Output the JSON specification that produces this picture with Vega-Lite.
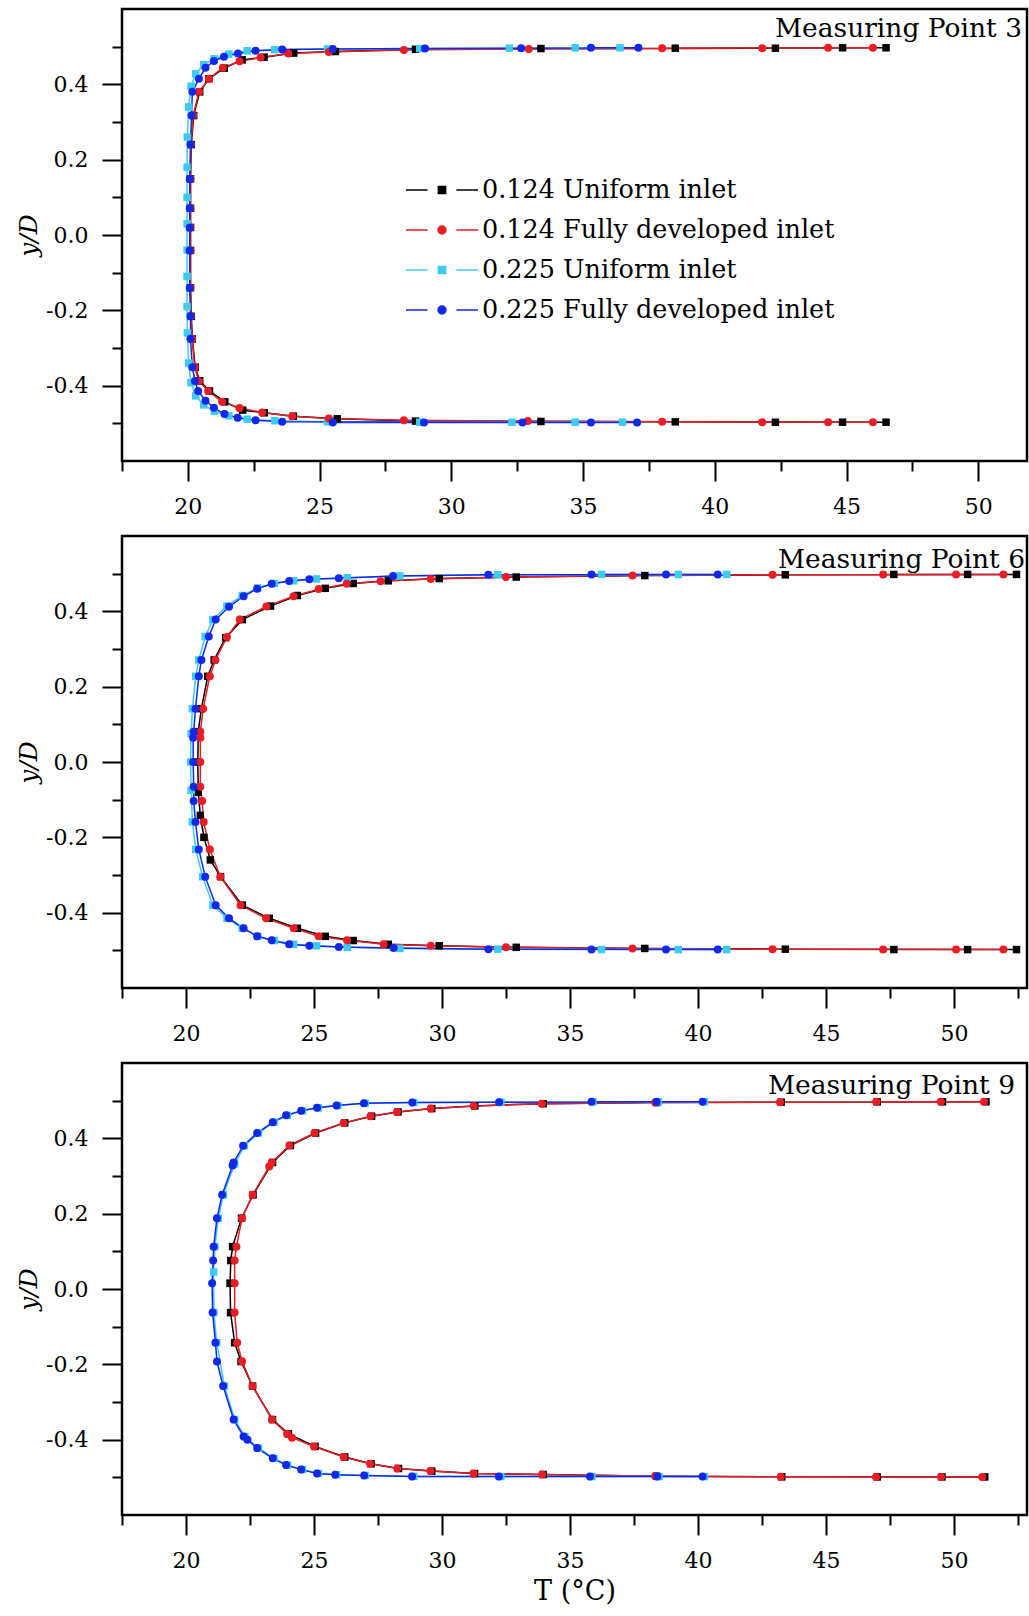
{
"$schema": "https://vega.github.io/schema/vega-lite/v6.json",
"padding": {"left": 15, "top": 7, "right": 3, "bottom": 2},
"background": "white",
"config": {
  "view": {"stroke": "black", "strokeWidth": 2.5},
  "font": "DejaVu Serif",
  "axis": {"labelColor": "black", "tickColor": "black", "titleColor": "black", "labelFont": "DejaVu Serif", "titleFont": "DejaVu Serif", "grid": false, "domain": false, "tickWidth": 2}
},
"data": {"values": [
{"p":3,"s":"A","t":46.5,"y":0.497},{"p":3,"s":"A","t":44.85,"y":0.497},{"p":3,"s":"A","t":42.3,"y":0.496},{"p":3,"s":"A","t":38.5,"y":0.496},{"p":3,"s":"A","t":33.4,"y":0.495},{"p":3,"s":"A","t":28.64,"y":0.493},{"p":3,"s":"A","t":25.6,"y":0.487},{"p":3,"s":"A","t":24.02,"y":0.483},{"p":3,"s":"A","t":22.89,"y":0.472},{"p":3,"s":"A","t":22.06,"y":0.465},{"p":3,"s":"A","t":21.38,"y":0.443},{"p":3,"s":"A","t":20.8,"y":0.415},{"p":3,"s":"A","t":20.45,"y":0.38},{"p":3,"s":"A","t":20.22,"y":0.317},{"p":3,"s":"A","t":20.13,"y":0.24},{"p":3,"s":"A","t":20.1,"y":0.149},{"p":3,"s":"A","t":20.1,"y":0.071},{"p":3,"s":"A","t":20.1,"y":0.02},{"p":3,"s":"A","t":20.1,"y":-0.041},{"p":3,"s":"A","t":20.1,"y":-0.14},{"p":3,"s":"A","t":20.13,"y":-0.216},{"p":3,"s":"A","t":20.17,"y":-0.276},{"p":3,"s":"A","t":20.28,"y":-0.351},{"p":3,"s":"A","t":20.45,"y":-0.387},{"p":3,"s":"A","t":20.82,"y":-0.414},{"p":3,"s":"A","t":21.4,"y":-0.443},{"p":3,"s":"A","t":22.08,"y":-0.465},{"p":3,"s":"A","t":22.9,"y":-0.472},{"p":3,"s":"A","t":24.0,"y":-0.481},{"p":3,"s":"A","t":25.67,"y":-0.488},{"p":3,"s":"A","t":28.64,"y":-0.494},{"p":3,"s":"A","t":33.4,"y":-0.495},{"p":3,"s":"A","t":38.5,"y":-0.496},{"p":3,"s":"A","t":42.3,"y":-0.497},{"p":3,"s":"A","t":44.85,"y":-0.497},{"p":3,"s":"A","t":46.5,"y":-0.497},
{"p":3,"s":"B","t":46.0,"y":0.497},{"p":3,"s":"B","t":44.3,"y":0.497},{"p":3,"s":"B","t":41.8,"y":0.496},{"p":3,"s":"B","t":38.0,"y":0.496},{"p":3,"s":"B","t":32.94,"y":0.494},{"p":3,"s":"B","t":28.2,"y":0.491},{"p":3,"s":"B","t":25.35,"y":0.486},{"p":3,"s":"B","t":23.81,"y":0.482},{"p":3,"s":"B","t":22.76,"y":0.471},{"p":3,"s":"B","t":21.96,"y":0.461},{"p":3,"s":"B","t":21.33,"y":0.444},{"p":3,"s":"B","t":20.8,"y":0.415},{"p":3,"s":"B","t":20.42,"y":0.38},{"p":3,"s":"B","t":20.2,"y":0.317},{"p":3,"s":"B","t":20.12,"y":0.24},{"p":3,"s":"B","t":20.1,"y":0.149},{"p":3,"s":"B","t":20.1,"y":0.071},{"p":3,"s":"B","t":20.1,"y":0.02},{"p":3,"s":"B","t":20.1,"y":-0.041},{"p":3,"s":"B","t":20.1,"y":-0.14},{"p":3,"s":"B","t":20.12,"y":-0.216},{"p":3,"s":"B","t":20.16,"y":-0.276},{"p":3,"s":"B","t":20.26,"y":-0.351},{"p":3,"s":"B","t":20.42,"y":-0.388},{"p":3,"s":"B","t":20.77,"y":-0.414},{"p":3,"s":"B","t":21.3,"y":-0.443},{"p":3,"s":"B","t":21.96,"y":-0.459},{"p":3,"s":"B","t":22.82,"y":-0.471},{"p":3,"s":"B","t":23.96,"y":-0.481},{"p":3,"s":"B","t":25.35,"y":-0.487},{"p":3,"s":"B","t":28.2,"y":-0.492},{"p":3,"s":"B","t":32.9,"y":-0.494},{"p":3,"s":"B","t":38.0,"y":-0.496},{"p":3,"s":"B","t":41.8,"y":-0.497},{"p":3,"s":"B","t":44.3,"y":-0.497},{"p":3,"s":"B","t":46.0,"y":-0.497},
{"p":3,"s":"C","t":36.4,"y":0.497},{"p":3,"s":"C","t":34.7,"y":0.497},{"p":3,"s":"C","t":32.2,"y":0.496},{"p":3,"s":"C","t":28.8,"y":0.495},{"p":3,"s":"C","t":25.3,"y":0.494},{"p":3,"s":"C","t":23.3,"y":0.492},{"p":3,"s":"C","t":22.25,"y":0.489},{"p":3,"s":"C","t":21.55,"y":0.48},{"p":3,"s":"C","t":21.0,"y":0.468},{"p":3,"s":"C","t":20.6,"y":0.452},{"p":3,"s":"C","t":20.3,"y":0.428},{"p":3,"s":"C","t":20.12,"y":0.395},{"p":3,"s":"C","t":20.03,"y":0.34},{"p":3,"s":"C","t":19.98,"y":0.26},{"p":3,"s":"C","t":19.97,"y":0.18},{"p":3,"s":"C","t":19.97,"y":0.1},{"p":3,"s":"C","t":19.97,"y":0.03},{"p":3,"s":"C","t":19.97,"y":-0.04},{"p":3,"s":"C","t":19.97,"y":-0.11},{"p":3,"s":"C","t":19.97,"y":-0.19},{"p":3,"s":"C","t":19.98,"y":-0.26},{"p":3,"s":"C","t":20.03,"y":-0.34},{"p":3,"s":"C","t":20.12,"y":-0.392},{"p":3,"s":"C","t":20.3,"y":-0.427},{"p":3,"s":"C","t":20.6,"y":-0.451},{"p":3,"s":"C","t":21.0,"y":-0.468},{"p":3,"s":"C","t":21.55,"y":-0.48},{"p":3,"s":"C","t":22.25,"y":-0.489},{"p":3,"s":"C","t":23.3,"y":-0.493},{"p":3,"s":"C","t":25.3,"y":-0.496},{"p":3,"s":"C","t":28.8,"y":-0.497},{"p":3,"s":"C","t":32.3,"y":-0.497},{"p":3,"s":"C","t":34.7,"y":-0.497},{"p":3,"s":"C","t":36.5,"y":-0.497},
{"p":3,"s":"D","t":37.1,"y":0.497},{"p":3,"s":"D","t":35.3,"y":0.497},{"p":3,"s":"D","t":32.65,"y":0.496},{"p":3,"s":"D","t":29.0,"y":0.495},{"p":3,"s":"D","t":25.5,"y":0.494},{"p":3,"s":"D","t":23.58,"y":0.4925},{"p":3,"s":"D","t":22.57,"y":0.489},{"p":3,"s":"D","t":21.9,"y":0.482},{"p":3,"s":"D","t":21.37,"y":0.473},{"p":3,"s":"D","t":20.99,"y":0.462},{"p":3,"s":"D","t":20.67,"y":0.444},{"p":3,"s":"D","t":20.42,"y":0.415},{"p":3,"s":"D","t":20.17,"y":0.38},{"p":3,"s":"D","t":20.14,"y":0.317},{"p":3,"s":"D","t":20.1,"y":0.24},{"p":3,"s":"D","t":20.07,"y":0.1485},{"p":3,"s":"D","t":20.07,"y":0.071},{"p":3,"s":"D","t":20.07,"y":0.0195},{"p":3,"s":"D","t":20.07,"y":-0.041},{"p":3,"s":"D","t":20.07,"y":-0.1405},{"p":3,"s":"D","t":20.1,"y":-0.216},{"p":3,"s":"D","t":20.1,"y":-0.2755},{"p":3,"s":"D","t":20.17,"y":-0.351},{"p":3,"s":"D","t":20.27,"y":-0.3876},{"p":3,"s":"D","t":20.39,"y":-0.414},{"p":3,"s":"D","t":20.67,"y":-0.44},{"p":3,"s":"D","t":20.99,"y":-0.4587},{"p":3,"s":"D","t":21.39,"y":-0.4755},{"p":3,"s":"D","t":21.89,"y":-0.485},{"p":3,"s":"D","t":22.57,"y":-0.4916},{"p":3,"s":"D","t":23.58,"y":-0.496},{"p":3,"s":"D","t":25.5,"y":-0.498},{"p":3,"s":"D","t":28.96,"y":-0.498},{"p":3,"s":"D","t":32.7,"y":-0.498},{"p":3,"s":"D","t":35.3,"y":-0.498},{"p":3,"s":"D","t":37.05,"y":-0.498},
{"p":6,"s":"A","t":52.44,"y":0.498},{"p":6,"s":"A","t":50.53,"y":0.498},{"p":6,"s":"A","t":47.65,"y":0.498},{"p":6,"s":"A","t":43.41,"y":0.497},{"p":6,"s":"A","t":37.92,"y":0.495},{"p":6,"s":"A","t":32.9,"y":0.491},{"p":6,"s":"A","t":29.89,"y":0.487},{"p":6,"s":"A","t":27.9,"y":0.481},{"p":6,"s":"A","t":26.53,"y":0.474},{"p":6,"s":"A","t":25.44,"y":0.461},{"p":6,"s":"A","t":24.35,"y":0.442},{"p":6,"s":"A","t":23.3,"y":0.414},{"p":6,"s":"A","t":22.2,"y":0.378},{"p":6,"s":"A","t":21.55,"y":0.33},{"p":6,"s":"A","t":21.1,"y":0.271},{"p":6,"s":"A","t":20.85,"y":0.2275},{"p":6,"s":"A","t":20.6,"y":0.1416},{"p":6,"s":"A","t":20.48,"y":0.0806},{"p":6,"s":"A","t":20.46,"y":0.0},{"p":6,"s":"A","t":20.48,"y":-0.0806},{"p":6,"s":"A","t":20.56,"y":-0.1416},{"p":6,"s":"A","t":20.7,"y":-0.2},{"p":6,"s":"A","t":20.95,"y":-0.26},{"p":6,"s":"A","t":21.35,"y":-0.3044},{"p":6,"s":"A","t":22.2,"y":-0.38},{"p":6,"s":"A","t":23.25,"y":-0.415},{"p":6,"s":"A","t":24.35,"y":-0.4415},{"p":6,"s":"A","t":25.44,"y":-0.4628},{"p":6,"s":"A","t":26.53,"y":-0.474},{"p":6,"s":"A","t":27.9,"y":-0.484},{"p":6,"s":"A","t":29.89,"y":-0.488},{"p":6,"s":"A","t":32.9,"y":-0.492},{"p":6,"s":"A","t":37.92,"y":-0.495},{"p":6,"s":"A","t":43.41,"y":-0.497},{"p":6,"s":"A","t":47.65,"y":-0.498},{"p":6,"s":"A","t":50.53,"y":-0.498},{"p":6,"s":"A","t":52.44,"y":-0.498},
{"p":6,"s":"B","t":51.93,"y":0.498},{"p":6,"s":"B","t":50.08,"y":0.498},{"p":6,"s":"B","t":47.23,"y":0.498},{"p":6,"s":"B","t":42.91,"y":0.497},{"p":6,"s":"B","t":37.44,"y":0.495},{"p":6,"s":"B","t":32.5,"y":0.491},{"p":6,"s":"B","t":29.56,"y":0.486},{"p":6,"s":"B","t":27.6,"y":0.48},{"p":6,"s":"B","t":26.28,"y":0.473},{"p":6,"s":"B","t":25.18,"y":0.459},{"p":6,"s":"B","t":24.2,"y":0.44},{"p":6,"s":"B","t":23.14,"y":0.413},{"p":6,"s":"B","t":22.1,"y":0.378},{"p":6,"s":"B","t":21.6,"y":0.332},{"p":6,"s":"B","t":21.15,"y":0.271},{"p":6,"s":"B","t":20.93,"y":0.2275},{"p":6,"s":"B","t":20.67,"y":0.1416},{"p":6,"s":"B","t":20.56,"y":0.0806},{"p":6,"s":"B","t":20.56,"y":0.0646},{"p":6,"s":"B","t":20.56,"y":0.0},{"p":6,"s":"B","t":20.56,"y":-0.0655},{"p":6,"s":"B","t":20.63,"y":-0.1035},{"p":6,"s":"B","t":20.69,"y":-0.159},{"p":6,"s":"B","t":20.93,"y":-0.232},{"p":6,"s":"B","t":21.34,"y":-0.3044},{"p":6,"s":"B","t":22.13,"y":-0.38},{"p":6,"s":"B","t":23.13,"y":-0.415},{"p":6,"s":"B","t":24.21,"y":-0.4415},{"p":6,"s":"B","t":25.18,"y":-0.4628},{"p":6,"s":"B","t":26.29,"y":-0.473},{"p":6,"s":"B","t":27.72,"y":-0.484},{"p":6,"s":"B","t":29.56,"y":-0.488},{"p":6,"s":"B","t":32.5,"y":-0.492},{"p":6,"s":"B","t":37.44,"y":-0.495},{"p":6,"s":"B","t":42.91,"y":-0.497},{"p":6,"s":"B","t":47.23,"y":-0.498},{"p":6,"s":"B","t":50.08,"y":-0.498},{"p":6,"s":"B","t":51.93,"y":-0.498},
{"p":6,"s":"C","t":41.12,"y":0.498},{"p":6,"s":"C","t":39.23,"y":0.498},{"p":6,"s":"C","t":36.23,"y":0.498},{"p":6,"s":"C","t":32.18,"y":0.497},{"p":6,"s":"C","t":28.35,"y":0.494},{"p":6,"s":"C","t":26.3,"y":0.489},{"p":6,"s":"C","t":25.1,"y":0.486},{"p":6,"s":"C","t":24.2,"y":0.481},{"p":6,"s":"C","t":23.45,"y":0.474},{"p":6,"s":"C","t":22.8,"y":0.462},{"p":6,"s":"C","t":22.2,"y":0.442},{"p":6,"s":"C","t":21.6,"y":0.414},{"p":6,"s":"C","t":21.05,"y":0.378},{"p":6,"s":"C","t":20.75,"y":0.333},{"p":6,"s":"C","t":20.5,"y":0.271},{"p":6,"s":"C","t":20.38,"y":0.2275},{"p":6,"s":"C","t":20.25,"y":0.1416},{"p":6,"s":"C","t":20.2,"y":0.075},{"p":6,"s":"C","t":20.18,"y":0.0},{"p":6,"s":"C","t":20.2,"y":-0.075},{"p":6,"s":"C","t":20.25,"y":-0.159},{"p":6,"s":"C","t":20.38,"y":-0.232},{"p":6,"s":"C","t":20.65,"y":-0.3044},{"p":6,"s":"C","t":21.05,"y":-0.38},{"p":6,"s":"C","t":21.6,"y":-0.415},{"p":6,"s":"C","t":22.2,"y":-0.4415},{"p":6,"s":"C","t":22.8,"y":-0.4628},{"p":6,"s":"C","t":23.45,"y":-0.474},{"p":6,"s":"C","t":24.2,"y":-0.484},{"p":6,"s":"C","t":25.1,"y":-0.488},{"p":6,"s":"C","t":26.3,"y":-0.492},{"p":6,"s":"C","t":28.35,"y":-0.495},{"p":6,"s":"C","t":32.18,"y":-0.497},{"p":6,"s":"C","t":36.23,"y":-0.498},{"p":6,"s":"C","t":39.23,"y":-0.498},{"p":6,"s":"C","t":41.12,"y":-0.498},
{"p":6,"s":"D","t":40.77,"y":0.498},{"p":6,"s":"D","t":38.75,"y":0.498},{"p":6,"s":"D","t":35.84,"y":0.498},{"p":6,"s":"D","t":31.81,"y":0.497},{"p":6,"s":"D","t":28.09,"y":0.494},{"p":6,"s":"D","t":25.97,"y":0.4876},{"p":6,"s":"D","t":24.82,"y":0.485},{"p":6,"s":"D","t":24.03,"y":0.4805},{"p":6,"s":"D","t":23.35,"y":0.4734},{"p":6,"s":"D","t":22.78,"y":0.46},{"p":6,"s":"D","t":22.25,"y":0.44},{"p":6,"s":"D","t":21.68,"y":0.412},{"p":6,"s":"D","t":21.16,"y":0.378},{"p":6,"s":"D","t":20.89,"y":0.333},{"p":6,"s":"D","t":20.6,"y":0.271},{"p":6,"s":"D","t":20.5,"y":0.2275},{"p":6,"s":"D","t":20.37,"y":0.1416},{"p":6,"s":"D","t":20.3,"y":0.0806},{"p":6,"s":"D","t":20.28,"y":0.0646},{"p":6,"s":"D","t":20.28,"y":0.0},{"p":6,"s":"D","t":20.3,"y":-0.0655},{"p":6,"s":"D","t":20.3,"y":-0.1035},{"p":6,"s":"D","t":20.37,"y":-0.159},{"p":6,"s":"D","t":20.5,"y":-0.232},{"p":6,"s":"D","t":20.75,"y":-0.3044},{"p":6,"s":"D","t":21.16,"y":-0.38},{"p":6,"s":"D","t":21.68,"y":-0.415},{"p":6,"s":"D","t":22.25,"y":-0.4415},{"p":6,"s":"D","t":22.78,"y":-0.4628},{"p":6,"s":"D","t":23.35,"y":-0.473},{"p":6,"s":"D","t":24.03,"y":-0.484},{"p":6,"s":"D","t":24.82,"y":-0.488},{"p":6,"s":"D","t":25.97,"y":-0.491},{"p":6,"s":"D","t":28.11,"y":-0.494},{"p":6,"s":"D","t":31.81,"y":-0.497},{"p":6,"s":"D","t":35.84,"y":-0.498},{"p":6,"s":"D","t":38.75,"y":-0.498},{"p":6,"s":"D","t":40.77,"y":-0.498},
{"p":9,"s":"A","t":51.25,"y":0.497},{"p":9,"s":"A","t":49.55,"y":0.497},{"p":9,"s":"A","t":47.0,"y":0.497},{"p":9,"s":"A","t":43.25,"y":0.496},{"p":9,"s":"A","t":38.38,"y":0.495},{"p":9,"s":"A","t":33.95,"y":0.492},{"p":9,"s":"A","t":31.28,"y":0.486},{"p":9,"s":"A","t":29.6,"y":0.479},{"p":9,"s":"A","t":28.28,"y":0.47},{"p":9,"s":"A","t":27.25,"y":0.4587},{"p":9,"s":"A","t":26.2,"y":0.441},{"p":9,"s":"A","t":25.06,"y":0.414},{"p":9,"s":"A","t":24.08,"y":0.381},{"p":9,"s":"A","t":23.38,"y":0.336},{"p":9,"s":"A","t":22.62,"y":0.25},{"p":9,"s":"A","t":22.17,"y":0.188},{"p":9,"s":"A","t":21.82,"y":0.1125},{"p":9,"s":"A","t":21.75,"y":0.0755},{"p":9,"s":"A","t":21.72,"y":0.0155},{"p":9,"s":"A","t":21.74,"y":-0.0627},{"p":9,"s":"A","t":21.9,"y":-0.1427},{"p":9,"s":"A","t":22.15,"y":-0.1925},{"p":9,"s":"A","t":22.6,"y":-0.2576},{"p":9,"s":"A","t":23.38,"y":-0.3467},{"p":9,"s":"A","t":24.0,"y":-0.3845},{"p":9,"s":"A","t":25.04,"y":-0.418},{"p":9,"s":"A","t":26.2,"y":-0.446},{"p":9,"s":"A","t":27.23,"y":-0.464},{"p":9,"s":"A","t":28.3,"y":-0.4765},{"p":9,"s":"A","t":29.6,"y":-0.4835},{"p":9,"s":"A","t":31.27,"y":-0.49},{"p":9,"s":"A","t":33.95,"y":-0.4925},{"p":9,"s":"A","t":38.38,"y":-0.497},{"p":9,"s":"A","t":43.27,"y":-0.4987},{"p":9,"s":"A","t":47.0,"y":-0.499},{"p":9,"s":"A","t":49.53,"y":-0.499},{"p":9,"s":"A","t":51.2,"y":-0.499},
{"p":9,"s":"B","t":51.17,"y":0.497},{"p":9,"s":"B","t":49.48,"y":0.497},{"p":9,"s":"B","t":46.96,"y":0.497},{"p":9,"s":"B","t":43.2,"y":0.496},{"p":9,"s":"B","t":38.33,"y":0.495},{"p":9,"s":"B","t":33.9,"y":0.492},{"p":9,"s":"B","t":31.24,"y":0.486},{"p":9,"s":"B","t":29.56,"y":0.479},{"p":9,"s":"B","t":28.24,"y":0.47},{"p":9,"s":"B","t":27.21,"y":0.4587},{"p":9,"s":"B","t":26.16,"y":0.441},{"p":9,"s":"B","t":25.02,"y":0.414},{"p":9,"s":"B","t":24.04,"y":0.381},{"p":9,"s":"B","t":23.35,"y":0.336},{"p":9,"s":"B","t":23.25,"y":0.325},{"p":9,"s":"B","t":22.6,"y":0.25},{"p":9,"s":"B","t":22.19,"y":0.188},{"p":9,"s":"B","t":21.97,"y":0.1125},{"p":9,"s":"B","t":21.9,"y":0.0755},{"p":9,"s":"B","t":21.9,"y":0.0155},{"p":9,"s":"B","t":21.9,"y":-0.0627},{"p":9,"s":"B","t":22.0,"y":-0.1427},{"p":9,"s":"B","t":22.19,"y":-0.1925},{"p":9,"s":"B","t":22.6,"y":-0.2576},{"p":9,"s":"B","t":23.36,"y":-0.3467},{"p":9,"s":"B","t":23.95,"y":-0.3845},{"p":9,"s":"B","t":24.14,"y":-0.3947},{"p":9,"s":"B","t":25.0,"y":-0.418},{"p":9,"s":"B","t":26.16,"y":-0.446},{"p":9,"s":"B","t":27.19,"y":-0.464},{"p":9,"s":"B","t":28.25,"y":-0.4765},{"p":9,"s":"B","t":29.55,"y":-0.4835},{"p":9,"s":"B","t":31.23,"y":-0.49},{"p":9,"s":"B","t":33.91,"y":-0.4925},{"p":9,"s":"B","t":38.33,"y":-0.497},{"p":9,"s":"B","t":43.23,"y":-0.4987},{"p":9,"s":"B","t":46.95,"y":-0.499},{"p":9,"s":"B","t":49.49,"y":-0.499},{"p":9,"s":"B","t":51.1,"y":-0.499},
{"p":9,"s":"C","t":40.25,"y":0.497},{"p":9,"s":"C","t":38.45,"y":0.497},{"p":9,"s":"C","t":35.9,"y":0.497},{"p":9,"s":"C","t":32.3,"y":0.496},{"p":9,"s":"C","t":28.9,"y":0.495},{"p":9,"s":"C","t":27.0,"y":0.493},{"p":9,"s":"C","t":25.93,"y":0.487},{"p":9,"s":"C","t":25.17,"y":0.481},{"p":9,"s":"C","t":24.55,"y":0.473},{"p":9,"s":"C","t":23.96,"y":0.461},{"p":9,"s":"C","t":23.44,"y":0.443},{"p":9,"s":"C","t":22.83,"y":0.414},{"p":9,"s":"C","t":22.28,"y":0.38},{"p":9,"s":"C","t":21.9,"y":0.332},{"p":9,"s":"C","t":21.46,"y":0.25},{"p":9,"s":"C","t":21.26,"y":0.188},{"p":9,"s":"C","t":21.13,"y":0.1125},{"p":9,"s":"C","t":21.08,"y":0.045},{"p":9,"s":"C","t":21.09,"y":-0.0627},{"p":9,"s":"C","t":21.2,"y":-0.1427},{"p":9,"s":"C","t":21.5,"y":-0.2576},{"p":9,"s":"C","t":21.9,"y":-0.3467},{"p":9,"s":"C","t":22.3,"y":-0.3915},{"p":9,"s":"C","t":22.83,"y":-0.4224},{"p":9,"s":"C","t":23.44,"y":-0.4496},{"p":9,"s":"C","t":23.96,"y":-0.4675},{"p":9,"s":"C","t":24.55,"y":-0.4795},{"p":9,"s":"C","t":25.17,"y":-0.4896},{"p":9,"s":"C","t":25.88,"y":-0.493},{"p":9,"s":"C","t":27.0,"y":-0.495},{"p":9,"s":"C","t":28.9,"y":-0.4975},{"p":9,"s":"C","t":32.3,"y":-0.498},{"p":9,"s":"C","t":35.85,"y":-0.498},{"p":9,"s":"C","t":38.48,"y":-0.498},{"p":9,"s":"C","t":40.25,"y":-0.498},
{"p":9,"s":"D","t":40.18,"y":0.497},{"p":9,"s":"D","t":38.38,"y":0.497},{"p":9,"s":"D","t":35.84,"y":0.497},{"p":9,"s":"D","t":32.23,"y":0.496},{"p":9,"s":"D","t":28.84,"y":0.495},{"p":9,"s":"D","t":26.95,"y":0.493},{"p":9,"s":"D","t":25.88,"y":0.487},{"p":9,"s":"D","t":25.12,"y":0.481},{"p":9,"s":"D","t":24.5,"y":0.473},{"p":9,"s":"D","t":23.91,"y":0.461},{"p":9,"s":"D","t":23.39,"y":0.443},{"p":9,"s":"D","t":22.78,"y":0.414},{"p":9,"s":"D","t":22.23,"y":0.38},{"p":9,"s":"D","t":21.86,"y":0.336},{"p":9,"s":"D","t":21.82,"y":0.328},{"p":9,"s":"D","t":21.41,"y":0.25},{"p":9,"s":"D","t":21.21,"y":0.188},{"p":9,"s":"D","t":21.08,"y":0.1125},{"p":9,"s":"D","t":21.06,"y":0.0755},{"p":9,"s":"D","t":21.02,"y":0.0155},{"p":9,"s":"D","t":21.04,"y":-0.0627},{"p":9,"s":"D","t":21.15,"y":-0.1427},{"p":9,"s":"D","t":21.21,"y":-0.1925},{"p":9,"s":"D","t":21.45,"y":-0.2576},{"p":9,"s":"D","t":21.86,"y":-0.3467},{"p":9,"s":"D","t":22.25,"y":-0.3915},{"p":9,"s":"D","t":22.4,"y":-0.4},{"p":9,"s":"D","t":22.78,"y":-0.4224},{"p":9,"s":"D","t":23.39,"y":-0.4496},{"p":9,"s":"D","t":23.91,"y":-0.4675},{"p":9,"s":"D","t":24.5,"y":-0.4795},{"p":9,"s":"D","t":25.12,"y":-0.4896},{"p":9,"s":"D","t":25.83,"y":-0.493},{"p":9,"s":"D","t":26.96,"y":-0.495},{"p":9,"s":"D","t":28.83,"y":-0.4975},{"p":9,"s":"D","t":32.22,"y":-0.498},{"p":9,"s":"D","t":35.78,"y":-0.498},{"p":9,"s":"D","t":38.41,"y":-0.498},{"p":9,"s":"D","t":40.18,"y":-0.498}
]},
"spacing": 75,
"bounds": "flush",
"vconcat": [
{
  "width": 905, "height": 452,
  "layer": [
    {"transform": [{"filter": "datum.p == 3"}],
     "mark": {"type": "line", "strokeWidth": 1.5},
     "encoding": {
       "x": {"field": "t", "type": "quantitative", "scale": {"domain": [17.5, 51.85], "nice": false, "zero": false},
             "axis": {"orient": "bottom", "values": [20, 25, 30, 35, 40, 45, 50], "tickSize": 20, "labelFontSize": 22, "labelPadding": 15, "title": null, "labelFlush": false}},
       "y": {"field": "y", "type": "quantitative", "scale": {"domain": [-0.6, 0.6], "nice": false, "zero": false},
             "axis": {"orient": "left", "values": [-0.4, -0.2, 0, 0.2, 0.4], "tickSize": 20, "labelFontSize": 22, "labelPadding": 14, "labelExpr": "datum.value < 0 ? '-' + format(-datum.value, '.1f') : format(datum.value, '.1f')", "title": "y/D", "titleFontStyle": "italic", "titleFontWeight": "normal", "titleFontSize": 25, "titlePadding": 4, "labelFlush": false}},
       "color": {"field": "s", "type": "nominal", "scale": {"domain": ["A", "B", "C", "D"], "range": ["#000000", "#ec1c24", "#3ccbf2", "#1228e8"]},
         "legend": {"orient": "none", "legendX": 283, "legendY": 168, "title": null, "padding": 0, "labelFont": "DejaVu Serif", "labelFontSize": 25.5, "labelColor": "black", "labelLimit": 0, "labelOffset": 3, "rowPadding": 13, "clipHeight": 26, "symbolSize": 5184, "symbolStrokeWidth": 1.5,
           "labelExpr": "datum.label == 'A' ? '0.124 Uniform inlet' : datum.label == 'B' ? '0.124 Fully developed inlet' : datum.label == 'C' ? '0.225 Uniform inlet' : '0.225 Fully developed inlet'",
           "encode": {"symbols": {"update": {
             "shape": {"signal": "(datum.value == 'A' || datum.value == 'C') ? 'M-1,0H-0.4M0.4,0H1M-0.1,-0.1H0.1V0.1H-0.1Z' : 'M-1,0H-0.4M0.4,0H1M0.11,0A0.11,0.11 0 1,1 -0.11,0A0.11,0.11 0 1,1 0.11,0Z'"},
             "strokeWidth": {"value": 1.5},
             "opacity": {"value": 1}
           }}}}},
       "order": {"field": "y", "type": "quantitative"}
     }},
    {"transform": [{"filter": "datum.p == 3 && (datum.s == 'A' || datum.s == 'C')"}],
     "mark": {"type": "point", "shape": "square", "filled": true, "size": 56, "opacity": 1},
     "encoding": {
       "x": {"field": "t", "type": "quantitative", "axis": {"orient": "bottom", "values": [17.5, 22.5, 27.5, 32.5, 37.5, 42.5, 47.5], "tickSize": 10, "labels": false, "title": null}},
       "y": {"field": "y", "type": "quantitative", "axis": {"orient": "left", "values": [-0.5, -0.3, -0.1, 0.1, 0.3, 0.5], "tickSize": 10, "labels": false, "title": null}},
       "color": {"field": "s", "type": "nominal"}
     }},
    {"transform": [{"filter": "datum.p == 3 && (datum.s == 'B' || datum.s == 'D')"}],
     "mark": {"type": "point", "shape": "circle", "filled": true, "size": 64, "opacity": 1},
     "encoding": {
       "x": {"field": "t", "type": "quantitative", "axis": null},
       "y": {"field": "y", "type": "quantitative", "axis": null},
       "color": {"field": "s", "type": "nominal"}
     }},
    {"data": {"values": [{"label": "Measuring Point 3"}]},
     "mark": {"type": "text", "align": "right", "baseline": "alphabetic", "dx": -5, "dy": 28, "font": "DejaVu Serif", "fontSize": 26.5, "color": "black"},
     "encoding": {"x": {"datum": 51.85, "type": "quantitative", "axis": null}, "y": {"datum": 0.6, "type": "quantitative", "axis": null}, "text": {"field": "label"}}}
  ],
  "resolve": {"axis": {"x": "independent", "y": "independent"}}
},
{
  "width": 905, "height": 452,
  "layer": [
    {"transform": [{"filter": "datum.p == 6"}],
     "mark": {"type": "line", "strokeWidth": 1.5},
     "encoding": {
       "x": {"field": "t", "type": "quantitative", "scale": {"domain": [17.5, 52.85], "nice": false, "zero": false},
             "axis": {"orient": "bottom", "values": [20, 25, 30, 35, 40, 45, 50], "tickSize": 20, "labelFontSize": 22, "labelPadding": 15, "title": null, "labelFlush": false}},
       "y": {"field": "y", "type": "quantitative", "scale": {"domain": [-0.6, 0.6], "nice": false, "zero": false},
             "axis": {"orient": "left", "values": [-0.4, -0.2, 0, 0.2, 0.4], "tickSize": 20, "labelFontSize": 22, "labelPadding": 14, "labelExpr": "datum.value < 0 ? '-' + format(-datum.value, '.1f') : format(datum.value, '.1f')", "title": "y/D", "titleFontStyle": "italic", "titleFontWeight": "normal", "titleFontSize": 25, "titlePadding": 4, "labelFlush": false}},
       "color": {"field": "s", "type": "nominal"},
       "order": {"field": "y", "type": "quantitative"}
     }},
    {"transform": [{"filter": "datum.p == 6 && (datum.s == 'A' || datum.s == 'C')"}],
     "mark": {"type": "point", "shape": "square", "filled": true, "size": 56, "opacity": 1},
     "encoding": {
       "x": {"field": "t", "type": "quantitative", "axis": {"orient": "bottom", "values": [17.5, 22.5, 27.5, 32.5, 37.5, 42.5, 47.5, 52.5], "tickSize": 10, "labels": false, "title": null}},
       "y": {"field": "y", "type": "quantitative", "axis": {"orient": "left", "values": [-0.5, -0.3, -0.1, 0.1, 0.3, 0.5], "tickSize": 10, "labels": false, "title": null}},
       "color": {"field": "s", "type": "nominal"}
     }},
    {"transform": [{"filter": "datum.p == 6 && (datum.s == 'B' || datum.s == 'D')"}],
     "mark": {"type": "point", "shape": "circle", "filled": true, "size": 64, "opacity": 1},
     "encoding": {
       "x": {"field": "t", "type": "quantitative", "axis": null},
       "y": {"field": "y", "type": "quantitative", "axis": null},
       "color": {"field": "s", "type": "nominal"}
     }},
    {"data": {"values": [{"label": "Measuring Point 6"}]},
     "mark": {"type": "text", "align": "right", "baseline": "alphabetic", "dx": -2, "dy": 32, "font": "DejaVu Serif", "fontSize": 26.5, "color": "black"},
     "encoding": {"x": {"datum": 52.85, "type": "quantitative", "axis": null}, "y": {"datum": 0.6, "type": "quantitative", "axis": null}, "text": {"field": "label"}}}
  ],
  "resolve": {"axis": {"x": "independent", "y": "independent"}}
},
{
  "width": 905, "height": 452,
  "layer": [
    {"transform": [{"filter": "datum.p == 9"}],
     "mark": {"type": "line", "strokeWidth": 1.5},
     "encoding": {
       "x": {"field": "t", "type": "quantitative", "scale": {"domain": [17.5, 52.85], "nice": false, "zero": false},
             "axis": {"orient": "bottom", "values": [20, 25, 30, 35, 40, 45, 50], "tickSize": 20, "labelFontSize": 22, "labelPadding": 15, "title": "T (°C)", "titleFontSize": 27, "titleFontWeight": "normal", "titlePadding": 7, "labelFlush": false}},
       "y": {"field": "y", "type": "quantitative", "scale": {"domain": [-0.6, 0.6], "nice": false, "zero": false},
             "axis": {"orient": "left", "values": [-0.4, -0.2, 0, 0.2, 0.4], "tickSize": 20, "labelFontSize": 22, "labelPadding": 14, "labelExpr": "datum.value < 0 ? '-' + format(-datum.value, '.1f') : format(datum.value, '.1f')", "title": "y/D", "titleFontStyle": "italic", "titleFontWeight": "normal", "titleFontSize": 25, "titlePadding": 4, "labelFlush": false}},
       "color": {"field": "s", "type": "nominal"},
       "order": {"field": "y", "type": "quantitative"}
     }},
    {"transform": [{"filter": "datum.p == 9 && (datum.s == 'A' || datum.s == 'C')"}],
     "mark": {"type": "point", "shape": "square", "filled": true, "size": 56, "opacity": 1},
     "encoding": {
       "x": {"field": "t", "type": "quantitative", "axis": {"orient": "bottom", "values": [17.5, 22.5, 27.5, 32.5, 37.5, 42.5, 47.5, 52.5], "tickSize": 10, "labels": false, "title": null}},
       "y": {"field": "y", "type": "quantitative", "axis": {"orient": "left", "values": [-0.5, -0.3, -0.1, 0.1, 0.3, 0.5], "tickSize": 10, "labels": false, "title": null}},
       "color": {"field": "s", "type": "nominal"}
     }},
    {"transform": [{"filter": "datum.p == 9 && (datum.s == 'B' || datum.s == 'D')"}],
     "mark": {"type": "point", "shape": "circle", "filled": true, "size": 64, "opacity": 1},
     "encoding": {
       "x": {"field": "t", "type": "quantitative", "axis": null},
       "y": {"field": "y", "type": "quantitative", "axis": null},
       "color": {"field": "s", "type": "nominal"}
     }},
    {"data": {"values": [{"label": "Measuring Point 9"}]},
     "mark": {"type": "text", "align": "right", "baseline": "alphabetic", "dx": -12, "dy": 31, "font": "DejaVu Serif", "fontSize": 26.5, "color": "black"},
     "encoding": {"x": {"datum": 52.85, "type": "quantitative", "axis": null}, "y": {"datum": 0.6, "type": "quantitative", "axis": null}, "text": {"field": "label"}}}
  ],
  "resolve": {"axis": {"x": "independent", "y": "independent"}}
}
]
}
